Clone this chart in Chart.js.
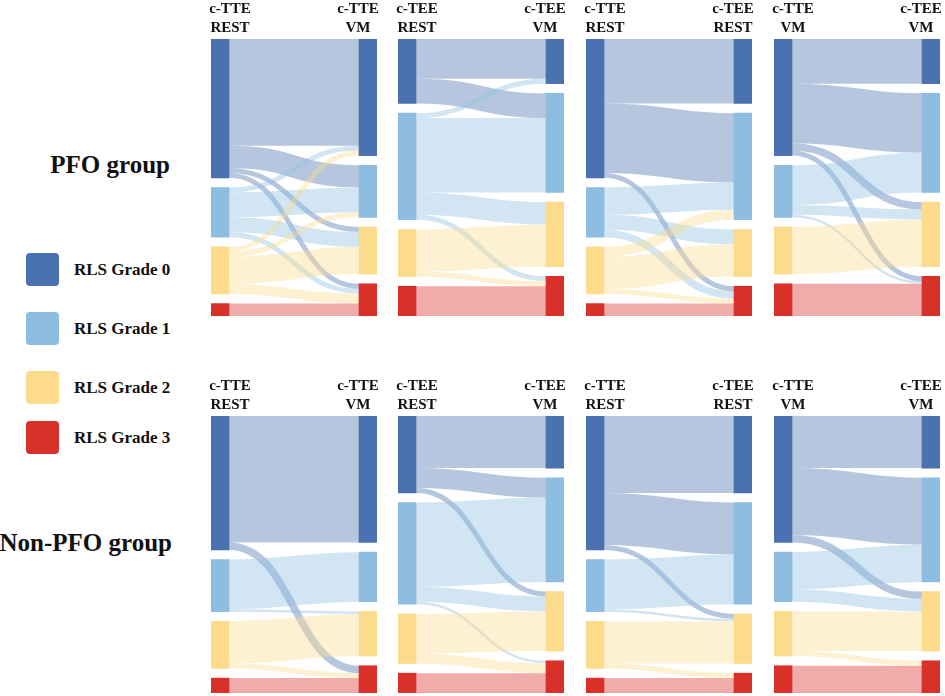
<!DOCTYPE html>
<html><head><meta charset="utf-8">
<script src="https://cdn.jsdelivr.net/npm/chart.js@4.4.1/dist/chart.umd.min.js"></script>
<style>
html,body{margin:0;padding:0;background:#fff;}
#wrap{position:relative;width:945px;height:696px;overflow:hidden;font-family:"Liberation Serif","Times New Roman",serif;color:#111;}
#wrap canvas{position:absolute;}
.rowlab{position:absolute;font-weight:bold;font-size:25px;line-height:25px;text-align:right;white-space:nowrap;}
.sw{position:absolute;left:26px;width:33px;height:33px;border-radius:4px;}
.lt{position:absolute;left:74px;font-weight:bold;font-size:17px;line-height:20px;white-space:nowrap;}
</style></head>
<body><div id="wrap"></div>
<script>
// ---------- data ----------
const grades = ['RLS Grade 0', 'RLS Grade 1', 'RLS Grade 2', 'RLS Grade 3'];
const groups = ['PFO group', 'Non-PFO group'];
const leftLabels  = [['c-TTE', 'REST'], ['c-TEE', 'REST'], ['c-TTE', 'REST'], ['c-TTE', 'VM']];
const rightLabels = [['c-TTE', 'VM'],   ['c-TEE', 'VM'],   ['c-TEE', 'REST'], ['c-TEE', 'VM']];

// flow matrices: row = source grade (left), column = target grade (right)
const pfoTteRestToTteVm   = [[43, 9, 2, 2], [2, 10, 6, 2], [2, 2, 11, 4], [0, 0, 0, 5]];
const pfoTeeRestToTeeVm   = [[16, 10, 0, 0], [2, 30, 9, 2], [0, 0, 17, 2], [0, 0, 0, 12]];
const pfoTteRestToTeeRest = [[26, 28, 0, 2], [0, 11, 6, 3], [0, 4, 13, 2], [0, 0, 0, 5]];
const pfoTteVmToTeeVm     = [[18, 24, 3, 2], [0, 16, 4, 1], [0, 0, 19, 0], [0, 0, 0, 13]];

const nonTteRestToTteVm   = [[51, 0, 0, 3], [0, 20, 1, 0], [0, 0, 17, 2], [0, 0, 0, 6]];
const nonTeeRestToTeeVm   = [[21, 8, 2, 0], [0, 34, 6, 1], [0, 0, 16, 4], [0, 0, 0, 8]];
const nonTteRestToTeeRest = [[31, 21, 2, 0], [0, 20, 1, 0], [0, 0, 17, 2], [0, 0, 0, 6]];
const nonTteVmToTeeVm     = [[21, 27, 3, 0], [0, 15, 5, 0], [0, 0, 16, 2], [0, 0, 0, 11]];

const pfoFlows = [pfoTteRestToTteVm, pfoTeeRestToTeeVm, pfoTteRestToTeeRest, pfoTteVmToTeeVm];
const nonFlows = [nonTteRestToTteVm, nonTeeRestToTeeVm, nonTteRestToTeeRest, nonTteVmToTeeVm];

// ---------- styles / layout ----------
const nodeColors = ['#4A71B0', '#8DBDE1', '#FDDB8C', '#D9302A'];
const flowAlpha = 0.4;
const nodeGap = 3.9;          // padding between nodes, in value units
const colLeft = [211, 398, 586, 774];
const rowTop = [39, 416];
const plotW = 166, plotH = 277, nodeW = 18, headH = 39, sidePad = 6;

function rgba(hex, a) {
  const n = parseInt(hex.slice(1), 16);
  return `rgba(${(n >> 16) & 255},${(n >> 8) & 255},${n & 255},${a})`;
}
const wrap = document.getElementById('wrap');

// row labels + legend (HTML text)
const rowBase = [173, 551];
const rowRight = [170, 172];
groups.forEach((g, i) => {
  const d = document.createElement('div');
  d.className = 'rowlab';
  d.textContent = g;
  d.style.right = (945 - rowRight[i]) + 'px';
  d.style.top = (rowBase[i] - 21) + 'px';
  wrap.appendChild(d);
});
const legTop = [253, 312, 371, 421];
grades.forEach((g, i) => {
  const s = document.createElement('div');
  s.className = 'sw';
  s.style.top = legTop[i] + 'px';
  s.style.background = nodeColors[i];
  wrap.appendChild(s);
  const t = document.createElement('div');
  t.className = 'lt';
  t.textContent = g;
  t.style.top = (legTop[i] + 16.5 + 5.8 - 15.7) + 'px';
  wrap.appendChild(t);
});

function sums(flows) {
  const src = flows.map(r => r.reduce((a, b) => a + b, 0));
  const tgt = flows[0].map((_, j) => flows.reduce((a, r) => a + r[j], 0));
  const start = arr => { let s = 0; return arr.map(v => { const o = s; s += v + nodeGap; return o; }); };
  return { src, tgt, srcStart: start(src), tgtStart: start(tgt) };
}

const flowPlugin = {
  id: 'sankeyFlows',
  beforeDatasetsDraw(chart) {
    const flows = chart.options.plugins.sankeyFlows.flows;
    const L = sums(flows);
    const ys = chart.scales.y;
    const meta = chart.getDatasetMeta(0);
    const lb = meta.data[0].getProps(['x', 'width'], true);
    const rb = meta.data[1].getProps(['x', 'width'], true);
    const x0 = lb.x + lb.width / 2, x1 = rb.x - rb.width / 2, xm = (x0 + x1) / 2;
    const ctx = chart.ctx;
    const sOff = [0, 0, 0, 0], tOff = [0, 0, 0, 0];
    ctx.save();
    ctx.lineCap = 'butt';
    for (let i = 0; i < flows.length; i++) {
      for (let j = 0; j < flows[i].length; j++) {
        const v = flows[i][j];
        if (!v) continue;
        const y0 = ys.getPixelForValue(L.srcStart[i] + sOff[i] + v / 2);
        const y1 = ys.getPixelForValue(L.tgtStart[j] + tOff[j] + v / 2);
        const w = Math.abs(ys.getPixelForValue(v) - ys.getPixelForValue(0));
        sOff[i] += v; tOff[j] += v;
        ctx.beginPath();
        ctx.moveTo(x0, y0);
        ctx.bezierCurveTo(xm, y0, xm, y1, x1, y1);
        ctx.lineWidth = w;
        ctx.strokeStyle = rgba(nodeColors[i], flowAlpha);
        ctx.stroke();
      }
    }
    ctx.restore();
  }
};

const headerPlugin = {
  id: 'headers',
  afterDraw(chart) {
    const o = chart.options.plugins.headers;
    const xs = chart.scales.x, top = chart.chartArea.top;
    const ctx = chart.ctx;
    ctx.save();
    ctx.fillStyle = '#111';
    ctx.font = 'bold 15px "Liberation Serif", "Times New Roman", serif';
    ctx.textAlign = 'center';
    ctx.textBaseline = 'alphabetic';
    const xl = xs.getPixelForValue(0) + 10, xr = xs.getPixelForValue(1) - 10;
    o.left.forEach((t, k) => ctx.fillText(t, xl, top - 26 + k * 19));
    o.right.forEach((t, k) => ctx.fillText(t, xr, top - 26 + k * 19));
    ctx.restore();
  }
};

function makePanel(row, col, flows) {
  const L = sums(flows);
  const total = Math.max(L.src.reduce((a, b) => a + b, 0), L.tgt.reduce((a, b) => a + b, 0));
  const c = document.createElement('canvas');
  const W = plotW + 2 * sidePad, H = plotH + headH;
  c.width = W; c.height = H;
  c.style.width = W + 'px'; c.style.height = H + 'px';
  c.style.left = (colLeft[col] - sidePad) + 'px';
  c.style.top = (rowTop[row] - headH) + 'px';
  wrap.appendChild(c);
  const half = (nodeW / 2) / (plotW - nodeW);
  new Chart(c, {
    type: 'bar',
    data: {
      datasets: grades.map((g, k) => ({
        label: g,
        data: [
          { x: 0, y: [L.srcStart[k], L.srcStart[k] + L.src[k]] },
          { x: 1, y: [L.tgtStart[k], L.tgtStart[k] + L.tgt[k]] }
        ],
        backgroundColor: nodeColors[k],
        borderWidth: 0,
        barThickness: nodeW,
        grouped: false
      }))
    },
    options: {
      responsive: false,
      animation: false,
      events: [],
      layout: { padding: { left: sidePad, right: sidePad, top: headH, bottom: 0 } },
      scales: {
        x: { type: 'linear', display: false, offset: false, grid: { offset: false }, min: -half, max: 1 + half },
        y: { type: 'linear', display: false, reverse: true, min: 0, max: total + 3 * nodeGap }
      },
      plugins: {
        legend: { display: false },
        tooltip: { enabled: false },
        sankeyFlows: { flows },
        headers: { left: leftLabels[col], right: rightLabels[col] }
      }
    },
    plugins: [flowPlugin, headerPlugin]
  });
}

pfoFlows.forEach((f, i) => makePanel(0, i, f));
nonFlows.forEach((f, i) => makePanel(1, i, f));
</script>
</body></html>
